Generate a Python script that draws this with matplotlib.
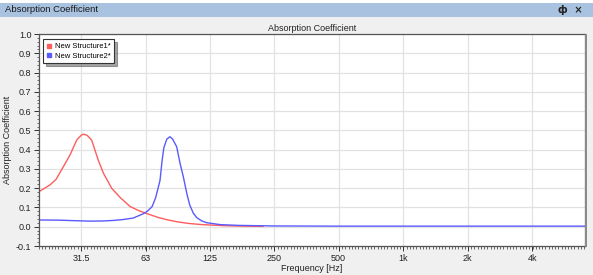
import matplotlib
matplotlib.use("Agg")
import matplotlib.pyplot as plt
from matplotlib.patches import Rectangle
from matplotlib.lines import Line2D
from matplotlib.ticker import FixedLocator, NullFormatter
import numpy as np

plt.rcParams['font.family'] = ['Liberation Sans', 'DejaVu Sans']

# data
freq1 = [20, 22.5, 24, 26, 27.9, 30, 31.5, 32.2, 33.5, 35.2, 37.8, 40, 43.7, 48,
         53.2, 58, 63, 72, 80, 90, 100, 115, 125, 150, 180, 222]
absorb1 = [0.182, 0.217, 0.245, 0.312, 0.372, 0.45, 0.475, 0.48, 0.475, 0.45, 0.346,
           0.277, 0.199, 0.15, 0.105, 0.085, 0.07, 0.048, 0.035, 0.024, 0.017, 0.011,
           0.009, 0.005, 0.003, 0.002]

freq2 = [20, 25, 30, 35, 40, 45, 50, 55, 61, 64, 67.4, 70, 73.4, 75, 76.5, 79, 81.7,
         84, 87.8, 91, 94.3, 98, 101, 105, 109, 115, 121, 140, 170, 250, 500, 7060]
absorb2 = [0.035, 0.034, 0.031, 0.029, 0.030, 0.033, 0.038, 0.045, 0.066, 0.08, 0.104,
           0.15, 0.24, 0.34, 0.41, 0.455, 0.467, 0.455, 0.415, 0.33, 0.259, 0.17, 0.113,
           0.07, 0.047, 0.03, 0.021, 0.011, 0.007, 0.004, 0.003, 0.003]

xticks = [31.5, 63, 125, 250, 500, 1000, 2000, 4000]
xticklabels = ['31.5', '63', '125', '250', '500', '1k', '2k', '4k']
series_names = ['New Structure1*', 'New Structure2*']
colors = ['#ff5c5c', '#5a5aff']

bg = '#f0f0f0'
fig = plt.figure(figsize=(5.93, 2.75), dpi=100, facecolor=bg)

# window title bar
fig.patches.append(Rectangle((0, 1 - 17 / 275), 1, 14 / 275, transform=fig.transFigure,
                             facecolor='#a9c2df', edgecolor='none', zorder=0))
fig.patches.append(Rectangle((0, 1 - 3 / 275), 1, 3 / 275, transform=fig.transFigure,
                             facecolor='white', edgecolor='none', zorder=0))
fig.text(5 / 593, 1 - 10 / 275, 'Absorption Coefficient', fontsize=6.8, color='#1a1a1a',
         va='center', ha='left')
fig.text(583 / 593, 1 - 10 / 275, 'ф  ×', fontsize=7, color='#222222', va='center',
         ha='right', family=['DejaVu Sans'], fontweight='bold')

ax = fig.add_axes([39 / 593, 1 - 246 / 275, 546 / 593, 212 / 275])
ax.set_facecolor('white')

ax.plot(freq1, absorb1, color=colors[0], lw=1.0)
ax.plot(freq2, absorb2, color=colors[1], lw=1.0)

ax.set_xscale('log')
ax.set_xlim(20, 7060)
ax.set_ylim(-0.1, 1.0)

ax.xaxis.set_major_locator(FixedLocator(xticks))
ax.set_xticklabels(xticklabels)
minor_x = [20 * 2 ** (k / 20) for k in range(0, 171)]
ax.xaxis.set_minor_locator(FixedLocator(minor_x))
ax.xaxis.set_minor_formatter(NullFormatter())

yt = np.round(np.arange(-0.1, 1.01, 0.1), 1)
ax.set_yticks(yt)
ax.set_yticklabels(['%.1f' % v for v in yt])
ax.yaxis.set_minor_locator(FixedLocator(np.arange(-0.1, 1.0, 0.02)))

ax.tick_params(which='major', length=3.5, width=0.7, labelsize=6.5, color='#333333',
               labelcolor='#222222', pad=2)
ax.tick_params(which='minor', length=1.8, width=0.5, color='#333333')

ax.grid(True, which='major', color='#e2e2e2', lw=0.9)
ax.set_axisbelow(True)

for s in ax.spines.values():
    s.set_color('#555555')
    s.set_linewidth(0.9)

# frame shadow on the right
fig.patches.append(Rectangle((585 / 593, 1 - 247 / 275), 2 / 593, 213 / 275,
                             transform=fig.transFigure, facecolor='#8a8a8a',
                             edgecolor='none', zorder=0))

ax.set_title('Absorption Coefficient', fontsize=6.5, pad=2, color='#222222')
ax.set_xlabel('Frequency [Hz]', fontsize=6.5, labelpad=1, color='#222222')
ax.set_ylabel('Absorption Coefficient', fontsize=6.5, labelpad=3, color='#222222')

handles = [Line2D([], [], ls='none', marker='s', markersize=3, color=c) for c in colors]
leg = ax.legend(handles, series_names, loc='upper left', bbox_to_anchor=(0.003, 0.985),
                fontsize=5.5, handlelength=0.8, handletextpad=0.3,
                borderpad=0.45, labelspacing=0.3, fancybox=False, shadow=True,
                frameon=True, borderaxespad=0.3)
leg.get_frame().set_edgecolor('#333333')
leg.get_frame().set_linewidth(0.8)

fig.savefig('out.png', dpi=100, facecolor=bg)
